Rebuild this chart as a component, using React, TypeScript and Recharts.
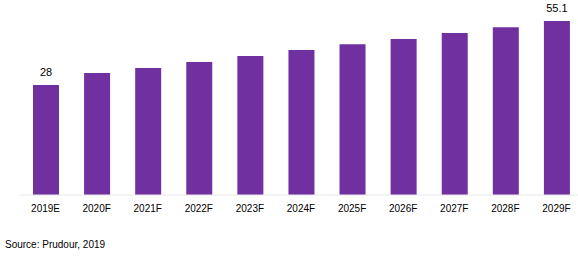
import React from 'react';
import { BarChart, Bar, XAxis, YAxis, LabelList } from 'recharts';

const years = ['2019E', '2020F', '2021F', '2022F', '2023F', '2024F', '2025F', '2026F', '2027F', '2028F', '2029F'];
const values = [28, 33.1, 35.2, 37.7, 40.3, 42.8, 45.3, 47.5, 50.0, 52.5, 55.1];
const shownLabels = ['28', '', '', '', '', '', '', '', '', '', '55.1'];

// the value axis of the original does not start at zero
const axisMin = -18.57;
const axisMax = 59.75;

const data = years.map((year, i) => ({ year, value: values[i] }));

const renderLabel = (props: any) => {
  const { x, y, width, index } = props;
  const text = shownLabels[index];
  if (!text) return null;
  return (
    <text
      x={x + width / 2}
      y={y - 9}
      textAnchor="middle"
      fontSize={11}
      fontFamily="'Liberation Sans', Arial, sans-serif"
      fill="#000"
    >
      {text}
    </text>
  );
};

const App: React.FC = () => {
  return (
    <div style={{ position: 'absolute', left: 0, top: 0, width: 578, height: 256, overflow: 'hidden', background: '#fff' }}>
      <BarChart
        width={590}
        height={256}
        data={data}
        margin={{ top: 10, right: 8, bottom: 31, left: 20 }}
      >
        <YAxis hide domain={[axisMin, axisMax]} allowDataOverflow />
        <XAxis
          dataKey="year"
          height={30}
          axisLine={{ stroke: '#e8e8e8' }}
          tickLine={false}
          tickMargin={4}
          interval={0}
          tick={{ fontSize: 10, fill: '#000', fontFamily: "'Liberation Sans', Arial, sans-serif" }}
        />
        <Bar
          dataKey={(d: any) => [axisMin, d.value]}
          fill="#7030A0"
          barSize={26}
          isAnimationActive={false}
        >
          <LabelList content={renderLabel} />
        </Bar>
      </BarChart>
      <div
        style={{
          position: 'absolute',
          left: 5,
          top: 239,
          fontSize: 10,
          lineHeight: '12px',
          fontFamily: "'Liberation Sans', Arial, sans-serif",
          color: '#000',
        }}
      >
        Source: Prudour, 2019
      </div>
    </div>
  );
};

export default App;
